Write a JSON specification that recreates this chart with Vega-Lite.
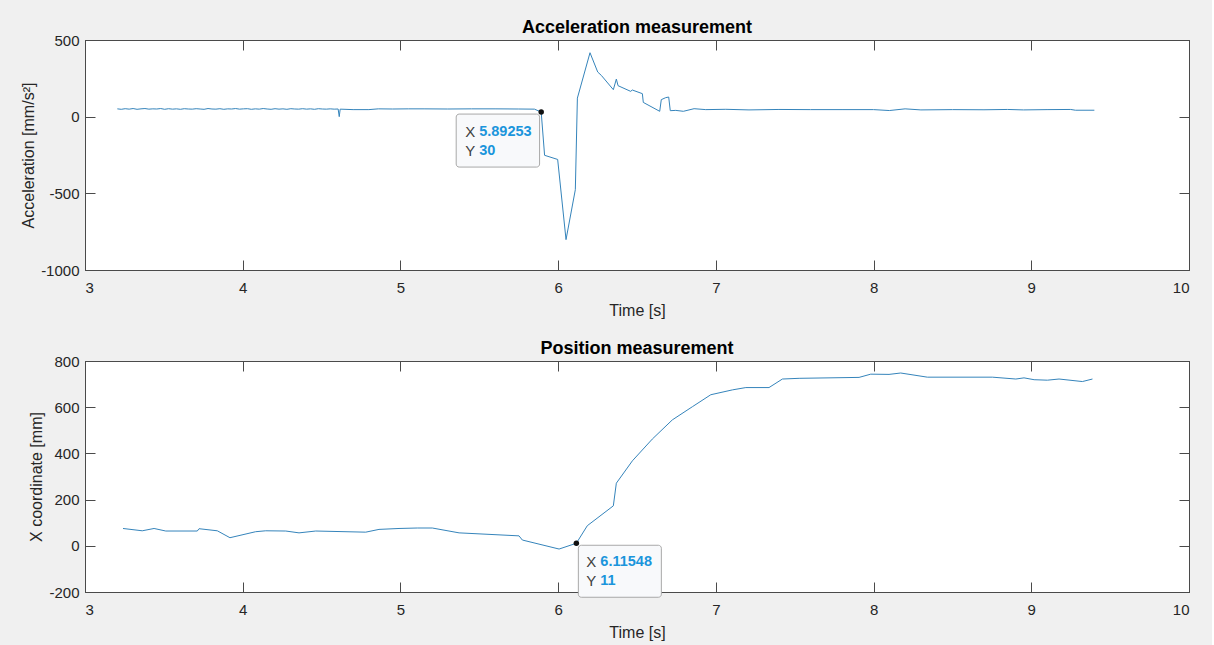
{
  "$schema": "https://vega.github.io/schema/vega-lite/v6.json",
  "background": "#f0f0f0",
  "padding": {"left": 20, "top": 18, "right": 22, "bottom": 6},
  "spacing": 91,
  "bounds": "flush",
  "config": {
    "font": "Liberation Sans",
    "locale": {"number": {"decimal": ".", "thousands": "", "grouping": [3], "currency": ["$", ""], "minus": "-"}},
    "view": {"fill": "white", "stroke": "#4a4a4a", "strokeWidth": 1},
    "axis": {
      "grid": false,
      "domainColor": "#4a4a4a",
      "tickColor": "#4a4a4a",
      "tickSize": -10,
      "labelColor": "#262626",
      "labelFontSize": 15,
      "labelFont": "Liberation Sans",
      "titleColor": "#262626",
      "titleFontSize": 16,
      "titleFontWeight": "normal",
      "titleFont": "Liberation Sans"
    },
    "title": {"fontSize": 18, "fontWeight": "bold", "color": "#000000", "font": "Liberation Sans", "anchor": "middle", "offset": -4}
  },
  "datasets": {
    "accel": [
      {"t": 3.205, "a": 51}, {"t": 3.23, "a": 48}, {"t": 3.255, "a": 52}, {"t": 3.28, "a": 49},
      {"t": 3.305, "a": 53}, {"t": 3.33, "a": 48}, {"t": 3.355, "a": 51}, {"t": 3.38, "a": 53},
      {"t": 3.405, "a": 49}, {"t": 3.43, "a": 51}, {"t": 3.455, "a": 50}, {"t": 3.48, "a": 53},
      {"t": 3.505, "a": 48}, {"t": 3.53, "a": 52}, {"t": 3.555, "a": 49}, {"t": 3.58, "a": 51},
      {"t": 3.605, "a": 48}, {"t": 3.63, "a": 52}, {"t": 3.655, "a": 50}, {"t": 3.68, "a": 49},
      {"t": 3.705, "a": 52}, {"t": 3.73, "a": 50}, {"t": 3.755, "a": 48}, {"t": 3.78, "a": 53},
      {"t": 3.805, "a": 50}, {"t": 3.83, "a": 49}, {"t": 3.855, "a": 52}, {"t": 3.88, "a": 48},
      {"t": 3.905, "a": 51}, {"t": 3.93, "a": 50}, {"t": 3.955, "a": 53}, {"t": 3.98, "a": 49},
      {"t": 4.005, "a": 51}, {"t": 4.03, "a": 52}, {"t": 4.055, "a": 48}, {"t": 4.08, "a": 51},
      {"t": 4.105, "a": 49}, {"t": 4.13, "a": 53}, {"t": 4.155, "a": 50}, {"t": 4.18, "a": 48},
      {"t": 4.205, "a": 52}, {"t": 4.23, "a": 49}, {"t": 4.255, "a": 51}, {"t": 4.28, "a": 48},
      {"t": 4.305, "a": 52}, {"t": 4.33, "a": 50}, {"t": 4.355, "a": 49}, {"t": 4.38, "a": 52},
      {"t": 4.405, "a": 49}, {"t": 4.43, "a": 51}, {"t": 4.455, "a": 48}, {"t": 4.48, "a": 52},
      {"t": 4.505, "a": 50}, {"t": 4.53, "a": 49}, {"t": 4.555, "a": 51}, {"t": 4.58, "a": 49},
      {"t": 4.605, "a": 50}, {"t": 4.612, "a": 0}, {"t": 4.618, "a": 49}, {"t": 4.70, "a": 46},
      {"t": 4.80, "a": 46}, {"t": 4.86, "a": 51}, {"t": 4.95, "a": 50}, {"t": 5.05, "a": 51},
      {"t": 5.15, "a": 51}, {"t": 5.30, "a": 50}, {"t": 5.45, "a": 51}, {"t": 5.60, "a": 51},
      {"t": 5.75, "a": 50}, {"t": 5.85, "a": 49}, {"t": 5.89253, "a": 30}, {"t": 5.914, "a": -252},
      {"t": 5.997, "a": -279}, {"t": 6.050, "a": -802}, {"t": 6.109, "a": -476}, {"t": 6.122, "a": 121},
      {"t": 6.202, "a": 417}, {"t": 6.251, "a": 291}, {"t": 6.274, "a": 269}, {"t": 6.350, "a": 176},
      {"t": 6.369, "a": 245}, {"t": 6.380, "a": 202}, {"t": 6.460, "a": 165}, {"t": 6.470, "a": 174},
      {"t": 6.534, "a": 150}, {"t": 6.540, "a": 93}, {"t": 6.644, "a": 35}, {"t": 6.654, "a": 111},
      {"t": 6.682, "a": 124}, {"t": 6.701, "a": 128}, {"t": 6.711, "a": 39}, {"t": 6.746, "a": 41},
      {"t": 6.794, "a": 35}, {"t": 6.862, "a": 52}, {"t": 6.936, "a": 46}, {"t": 7.063, "a": 48},
      {"t": 7.21, "a": 44}, {"t": 7.40, "a": 47}, {"t": 7.60, "a": 46}, {"t": 7.80, "a": 46},
      {"t": 8.00, "a": 46}, {"t": 8.10, "a": 40}, {"t": 8.20, "a": 51}, {"t": 8.30, "a": 44},
      {"t": 8.50, "a": 46}, {"t": 8.70, "a": 45}, {"t": 8.85, "a": 47}, {"t": 8.95, "a": 44},
      {"t": 9.10, "a": 46}, {"t": 9.25, "a": 47}, {"t": 9.28, "a": 42}, {"t": 9.40, "a": 42}
    ],
    "pos": [
      {"t": 3.241, "x": 75}, {"t": 3.363, "x": 65}, {"t": 3.438, "x": 75}, {"t": 3.512, "x": 64},
      {"t": 3.712, "x": 64}, {"t": 3.723, "x": 74}, {"t": 3.839, "x": 65}, {"t": 3.919, "x": 35},
      {"t": 4.082, "x": 61}, {"t": 4.146, "x": 65}, {"t": 4.273, "x": 64}, {"t": 4.357, "x": 56},
      {"t": 4.463, "x": 64}, {"t": 4.780, "x": 59}, {"t": 4.864, "x": 71}, {"t": 4.991, "x": 75},
      {"t": 5.107, "x": 77}, {"t": 5.202, "x": 77}, {"t": 5.372, "x": 56}, {"t": 5.752, "x": 43},
      {"t": 5.773, "x": 25}, {"t": 6.006, "x": -14}, {"t": 6.11548, "x": 11}, {"t": 6.185, "x": 87},
      {"t": 6.350, "x": 173}, {"t": 6.369, "x": 271}, {"t": 6.471, "x": 368}, {"t": 6.597, "x": 462},
      {"t": 6.724, "x": 545}, {"t": 6.851, "x": 602}, {"t": 6.968, "x": 654}, {"t": 7.105, "x": 675},
      {"t": 7.190, "x": 685}, {"t": 7.337, "x": 685}, {"t": 7.422, "x": 722}, {"t": 7.528, "x": 725},
      {"t": 7.908, "x": 729}, {"t": 7.982, "x": 743}, {"t": 8.098, "x": 742}, {"t": 8.172, "x": 748},
      {"t": 8.341, "x": 730}, {"t": 8.753, "x": 730}, {"t": 8.902, "x": 722}, {"t": 8.954, "x": 727},
      {"t": 9.018, "x": 719}, {"t": 9.102, "x": 717}, {"t": 9.176, "x": 722}, {"t": 9.324, "x": 711},
      {"t": 9.388, "x": 722}
    ],
    "tipAccel": [{"t": 5.89253, "a": 30}],
    "tipPos": [{"t": 6.11548, "x": 11}]
  },
  "vconcat": [
    {
      "title": "Acceleration measurement",
      "width": 1104,
      "height": 230,
      "layer": [
        {
          "data": {"name": "accel"},
          "mark": {"type": "line", "color": "#3584bb", "strokeWidth": 1},
          "encoding": {
            "x": {"field": "t", "type": "quantitative", "scale": {"domain": [3, 10], "nice": false},
                  "axis": {"orient": "bottom", "title": "Time [s]", "values": [3, 4, 5, 6, 7, 8, 9, 10], "format": "d", "labelPadding": 20, "titlePadding": 7}},
            "y": {"field": "a", "type": "quantitative", "scale": {"domain": [-1000, 500], "nice": false},
                  "axis": {"orient": "left", "title": "Acceleration [mm/s²]", "values": [-1000, -500, 0, 500], "format": "d", "labelPadding": 16, "titlePadding": 4}}
          }
        },
        {
          "data": {"name": "tipAccel"},
          "mark": {"type": "rect", "fill": "#f8f9fb", "stroke": "#a8a8a8", "strokeWidth": 1, "cornerRadius": 3, "xOffset": -85, "x2Offset": -1.6, "yOffset": 2, "y2Offset": 55},
          "encoding": {
            "x": {"field": "t", "type": "quantitative", "axis": {"orient": "top", "labels": false, "title": null, "values": [3, 4, 5, 6, 7, 8, 9, 10]}},
            "x2": {"field": "t"},
            "y": {"field": "a", "type": "quantitative", "axis": {"orient": "right", "labels": false, "title": null, "values": [-1000, -500, 0, 500]}},
            "y2": {"field": "a"}
          }
        },
        {
          "data": {"name": "tipAccel"},
          "mark": {"type": "circle", "color": "#111111", "size": 30, "opacity": 1},
          "encoding": {
            "x": {"field": "t", "type": "quantitative", "axis": null},
            "y": {"field": "a", "type": "quantitative", "axis": null}
          }
        },
        {
          "data": {"name": "tipAccel"},
          "mark": {"type": "text", "text": "X", "align": "left", "baseline": "middle", "dx": -76, "dy": 20, "fontSize": 15, "color": "#404040"},
          "encoding": {"x": {"field": "t", "type": "quantitative", "axis": null}, "y": {"field": "a", "type": "quantitative", "axis": null}}
        },
        {
          "data": {"name": "tipAccel"},
          "mark": {"type": "text", "text": "Y", "align": "left", "baseline": "middle", "dx": -76, "dy": 39, "fontSize": 15, "color": "#404040"},
          "encoding": {"x": {"field": "t", "type": "quantitative", "axis": null}, "y": {"field": "a", "type": "quantitative", "axis": null}}
        },
        {
          "data": {"name": "tipAccel"},
          "mark": {"type": "text", "align": "left", "baseline": "middle", "dx": -62, "dy": 20, "fontSize": 14.5, "fontWeight": "bold", "color": "#1b95dc"},
          "encoding": {"x": {"field": "t", "type": "quantitative", "axis": null}, "y": {"field": "a", "type": "quantitative", "axis": null},
                       "text": {"field": "t", "type": "quantitative", "format": ".5f"}}
        },
        {
          "data": {"name": "tipAccel"},
          "mark": {"type": "text", "align": "left", "baseline": "middle", "dx": -62, "dy": 39, "fontSize": 14.5, "fontWeight": "bold", "color": "#1b95dc"},
          "encoding": {"x": {"field": "t", "type": "quantitative", "axis": null}, "y": {"field": "a", "type": "quantitative", "axis": null},
                       "text": {"field": "a", "type": "quantitative", "format": "d"}}
        }
      ],
      "resolve": {"axis": {"x": "independent", "y": "independent"}}
    },
    {
      "title": "Position measurement",
      "width": 1104,
      "height": 231,
      "layer": [
        {
          "data": {"name": "pos"},
          "mark": {"type": "line", "color": "#3584bb", "strokeWidth": 1},
          "encoding": {
            "x": {"field": "t", "type": "quantitative", "scale": {"domain": [3, 10], "nice": false},
                  "axis": {"orient": "bottom", "title": "Time [s]", "values": [3, 4, 5, 6, 7, 8, 9, 10], "format": "d", "labelPadding": 20, "titlePadding": 7}},
            "y": {"field": "x", "type": "quantitative", "scale": {"domain": [-200, 800], "nice": false},
                  "axis": {"orient": "left", "title": "X coordinate [mm]", "values": [-200, 0, 200, 400, 600, 800], "format": "d", "labelPadding": 16, "titlePadding": 4}}
          }
        },
        {
          "data": {"name": "tipPos"},
          "mark": {"type": "rect", "fill": "#f8f9fb", "stroke": "#a8a8a8", "strokeWidth": 1, "cornerRadius": 3, "xOffset": 2, "x2Offset": 85, "yOffset": 2, "y2Offset": 54},
          "encoding": {
            "x": {"field": "t", "type": "quantitative", "axis": {"orient": "top", "labels": false, "title": null, "values": [3, 4, 5, 6, 7, 8, 9, 10]}},
            "x2": {"field": "t"},
            "y": {"field": "x", "type": "quantitative", "axis": {"orient": "right", "labels": false, "title": null, "values": [-200, 0, 200, 400, 600, 800]}},
            "y2": {"field": "x"}
          }
        },
        {
          "data": {"name": "tipPos"},
          "mark": {"type": "circle", "color": "#111111", "size": 30, "opacity": 1},
          "encoding": {
            "x": {"field": "t", "type": "quantitative", "axis": null},
            "y": {"field": "x", "type": "quantitative", "axis": null}
          }
        },
        {
          "data": {"name": "tipPos"},
          "mark": {"type": "text", "text": "X", "align": "left", "baseline": "middle", "dx": 10, "dy": 19, "fontSize": 15, "color": "#404040"},
          "encoding": {"x": {"field": "t", "type": "quantitative", "axis": null}, "y": {"field": "x", "type": "quantitative", "axis": null}}
        },
        {
          "data": {"name": "tipPos"},
          "mark": {"type": "text", "text": "Y", "align": "left", "baseline": "middle", "dx": 10, "dy": 38, "fontSize": 15, "color": "#404040"},
          "encoding": {"x": {"field": "t", "type": "quantitative", "axis": null}, "y": {"field": "x", "type": "quantitative", "axis": null}}
        },
        {
          "data": {"name": "tipPos"},
          "mark": {"type": "text", "align": "left", "baseline": "middle", "dx": 24, "dy": 19, "fontSize": 14.5, "fontWeight": "bold", "color": "#1b95dc"},
          "encoding": {"x": {"field": "t", "type": "quantitative", "axis": null}, "y": {"field": "x", "type": "quantitative", "axis": null},
                       "text": {"field": "t", "type": "quantitative", "format": ".5f"}}
        },
        {
          "data": {"name": "tipPos"},
          "mark": {"type": "text", "align": "left", "baseline": "middle", "dx": 24, "dy": 38, "fontSize": 14.5, "fontWeight": "bold", "color": "#1b95dc"},
          "encoding": {"x": {"field": "t", "type": "quantitative", "axis": null}, "y": {"field": "x", "type": "quantitative", "axis": null},
                       "text": {"field": "x", "type": "quantitative", "format": "d"}}
        }
      ],
      "resolve": {"axis": {"x": "independent", "y": "independent"}}
    }
  ]
}
